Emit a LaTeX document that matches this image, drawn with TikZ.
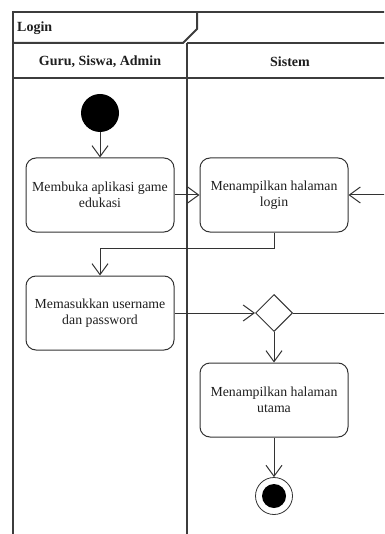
\documentclass[tikz,border=0pt]{standalone}
\usepackage{fontspec}
\setmainfont{Liberation Serif}
\usetikzlibrary{arrows.meta,shapes.geometric}

\definecolor{framec}{HTML}{3C3C3C}
\definecolor{linec}{HTML}{333333}
\definecolor{textc}{HTML}{1E1E1E}

\tikzset{
  frame/.style={draw=framec, line width=1.6pt},
  action/.style={draw=linec, line width=1pt, rectangle, rounded corners=10pt,
    minimum width=148pt, minimum height=74pt, align=center, text=textc,
    font=\fontsize{13.8}{16.5}\selectfont},
  flow/.style={draw=linec, line width=1pt,
    -{Straight Barb[length=11pt,width=16pt,line width=1pt]}},
  startnode/.style={circle, fill=black, minimum size=38pt, inner sep=0pt},
  endnode/.style={circle, draw=linec, line width=0.8pt, minimum size=37pt, inner sep=0pt},
  decision/.style={diamond, draw=linec, line width=1pt, minimum width=37pt,
    minimum height=37pt, inner sep=0pt},
  header/.style={font=\fontsize{14}{16}\selectfont\bfseries, text=textc, inner sep=0pt}
}

\begin{document}
\begin{tikzpicture}[x=1pt,y=-1pt]
  \useasboundingbox (0,0) rectangle (384,534);
  \clip (0,0) rectangle (384,534);

  % pool frame with two swimlanes
  \draw[frame] (13,12) -- (400,12);
  \draw[frame] (187,43) -- (400,43);
  \draw[frame] (13,78) -- (400,78);
  \draw[frame] (187,43) -- (187,540);
  \draw[frame, line width=2.2pt] (13,11) -- (13,540);

  % title tab
  \draw[frame, line width=2pt, line join=miter] (13,43) -- (183,43) -- (197,29) -- (197,12);
  \node[header, anchor=west] (title) at (17,28) {Login};

  % lane headers
  \node[header] (laneA) at (100,62) {Guru, Siswa, Admin};
  \node[header] (laneB) at (290,62) {Sistem};

  % activities
  \node[startnode] (start) at (100,113) {};
  \node[action] (open)  at (100,195) {Membuka aplikasi game\\edukasi};
  \node[action] (login) at (274,195) {Menampilkan halaman\\login};
  \node[action] (input) at (100,313) {Memasukkan username\\dan password};
  \node[decision] (dec) at (274,313) {};
  \node[action] (home)  at (274,400) {Menampilkan halaman\\utama};
  \node[endnode] (end) at (274,496) {};
  \fill (end.center) circle (12pt);

  \coordinate (loop) at (394,313);

  % control flow
  \draw[flow] (start) -- (open);
  \draw[flow] (open) -- (login);
  \draw[flow] (login.south) -- ++(0,16) -| (input.north);
  \draw[flow] (input) -- (dec);
  \draw[flow] (dec) -- (home);
  \draw[flow] (home) -- (end);
  \draw[flow] (dec.east) -- (loop) |- (login.east);
\end{tikzpicture}
\end{document}
